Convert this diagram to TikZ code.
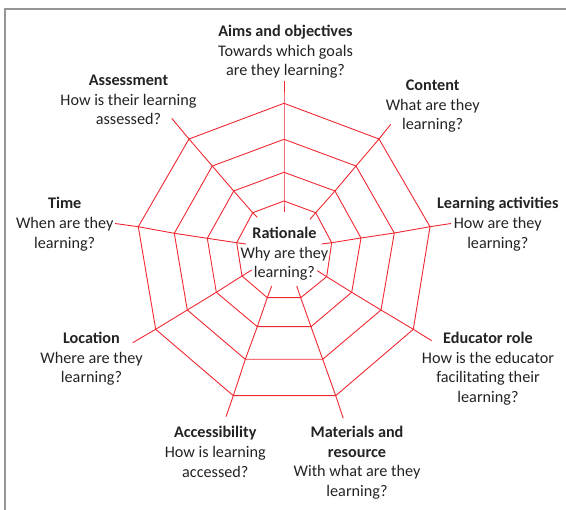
\documentclass[tikz,border=0pt]{standalone}
\usepackage{fontspec}
\setmainfont{Carlito}
\definecolor{web}{RGB}{240,40,50}
\definecolor{txt}{RGB}{35,35,35}
\definecolor{framegray}{RGB}{150,150,150}
\begin{document}
\begin{tikzpicture}[x=1pt,y=-1pt,
  webline/.style={draw=web,line width=0.9pt,line join=miter},
  lbl/.style={align=center,anchor=base,text=txt,font=\fontsize{16.2}{19.6}\selectfont,inner sep=0pt}]
\useasboundingbox (0,0) rectangle (566,510);
\draw[framegray,line width=1.6pt] (5,511) -- (5,9) -- (567,9);
% spokes: inner end, ring1..ring4, outer end
% A = 90
\coordinate (A0) at (284,211.7); \coordinate (A1) at (284,201); \coordinate (A2) at (284,172.3);
\coordinate (A3) at (284,139.3); \coordinate (A4) at (284,103.3); \coordinate (A5) at (284,81);
% B = 50
\coordinate (B0) at (310,219.3); \coordinate (B1) at (315.7,212.7); \coordinate (B2) at (335,191);
\coordinate (B3) at (356,166); \coordinate (B4) at (379,139); \coordinate (B5) at (390.7,124.3);
% C = 10
\coordinate (C0) at (321.7,244); \coordinate (C1) at (331.7,242.7); \coordinate (C2) at (361,238);
\coordinate (C3) at (394.3,233); \coordinate (C4) at (430,226.7); \coordinate (C5) at (451,223.5);
% D = -30
\coordinate (D0) at (317.3,270.7); \coordinate (D1) at (326.7,276.7); \coordinate (D2) at (351.7,292.3);
\coordinate (D3) at (381,310); \coordinate (D4) at (413.3,329.3); \coordinate (D5) at (431.7,340.7);
% E = -70
\coordinate (E0) at (296.7,286); \coordinate (E1) at (300.7,297.7); \coordinate (E2) at (311,326.7);
\coordinate (E3) at (322.7,359.3); \coordinate (E4) at (335.7,395.7); \coordinate (E5) at (343.3,418.3);
% F = -110
\coordinate (F0) at (271.7,286); \coordinate (F1) at (267.3,297.7); \coordinate (F2) at (257.3,326.7);
\coordinate (F3) at (245.3,359.3); \coordinate (F4) at (233.3,395.7); \coordinate (F5) at (226,416.7);
% G = -150
\coordinate (G0) at (251.7,270); \coordinate (G1) at (242,276); \coordinate (G2) at (216.3,292.3);
\coordinate (G3) at (187.3,310); \coordinate (G4) at (155.7,329.3); \coordinate (G5) at (132.7,342.7);
% H = 170
\coordinate (H0) at (246,244); \coordinate (H1) at (236.7,242.7); \coordinate (H2) at (207.3,238.3);
\coordinate (H3) at (174.3,233.3); \coordinate (H4) at (138.3,226.7); \coordinate (H5) at (115,223.5);
% I = 130
\coordinate (I0) at (257.3,217.3); \coordinate (I1) at (252.7,212.7); \coordinate (I2) at (233.7,191);
\coordinate (I3) at (212.3,166); \coordinate (I4) at (189,139); \coordinate (I5) at (171.7,118.3);
\foreach \s in {A,B,C,D,E,F,G,H,I}{
  \draw[webline] (\s0) -- (\s1) -- (\s2) -- (\s3) -- (\s4) -- (\s5);
}
\foreach \r in {1,2,3,4}{
  \draw[webline] (A\r) -- (B\r) -- (C\r) -- (D\r) -- (E\r) -- (F\r) -- (G\r) -- (H\r) -- (I\r) -- cycle;
}
% labels (anchor = baseline of last line)
\node[lbl] (aims) at (285.5,75.7) {\textbf{Aims and objectives}\\Towards which goals\\are they learning?};
\node[lbl] (assess) at (128.5,124.7) {\textbf{Assessment}\\How is their learning\\assessed?};
\node[lbl] (content) at (432.7,129.7) {\textbf{Content}\\What are they\\learning?};
\node[lbl] (time) at (64.7,248.2) {\textbf{Time}\\When are they\\learning?};
\node[lbl] (activ) at (497.8,248.2) {\textbf{Learning activities}\\How are they\\learning?};
\node[lbl] (rat) at (284.4,278) {\textbf{Rationale}\\Why are they\\learning?};
\node[lbl] (loc) at (91.5,383) {\textbf{Location}\\Where are they\\learning?};
\node[lbl] (educ) at (488,402.6) {\textbf{Educator role}\\How is the educator\\facilitating their\\learning?};
\node[lbl] (access) at (215.3,477.2) {\textbf{Accessibility}\\How is learning\\accessed?};
\node[lbl] (mat) at (357,496.6) {\textbf{Materials and}\\\textbf{resource}\\With what are they\\learning?};
\end{tikzpicture}
\end{document}
